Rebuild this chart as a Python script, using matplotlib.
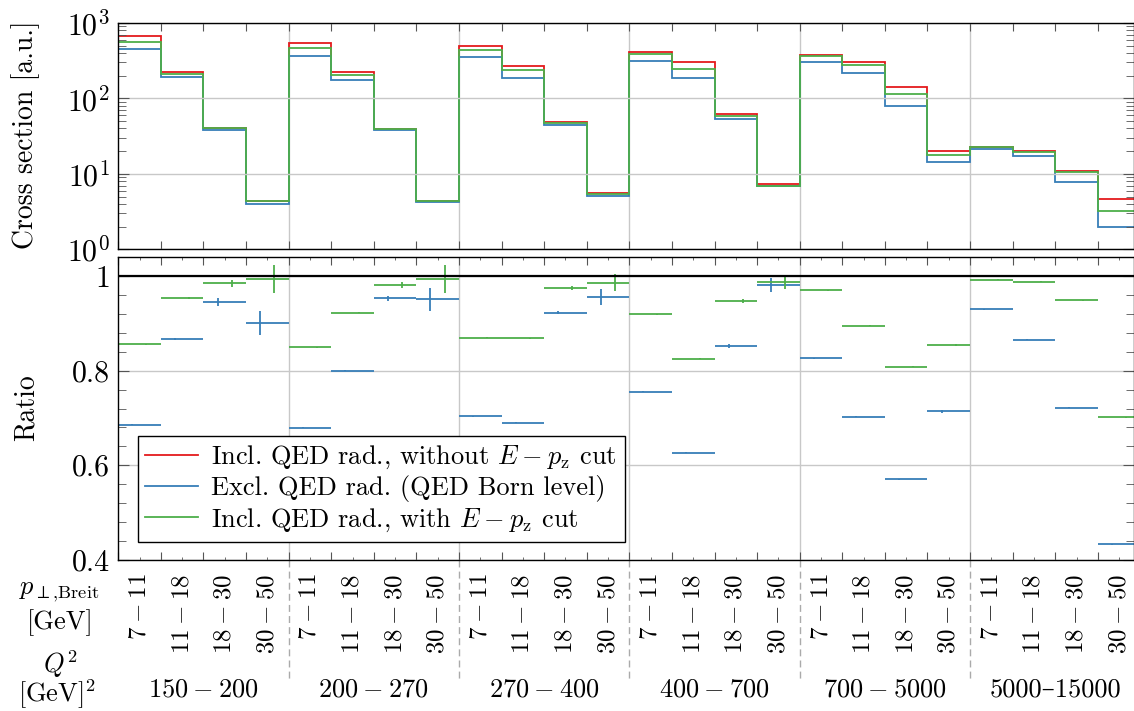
import numpy as np
import matplotlib
matplotlib.use('Agg')
import matplotlib.pyplot as plt
from matplotlib.ticker import FixedLocator, NullFormatter, FixedFormatter, MultipleLocator, LogLocator

plt.rcParams['font.family'] = ['cmr10', 'DejaVu Serif']
plt.rcParams['mathtext.fontset'] = 'cm'
plt.rcParams['axes.formatter.use_mathtext'] = True
plt.rcParams['font.size'] = 19

# bins: 6 Q2 groups x 4 pT bins
q2_labels = [r'$150\:{-}\:200$', r'$200\:{-}\:270$', r'$270\:{-}\:400$', r'$400\:{-}\:700$',
             r'$700\:{-}\:5000$', '5000\u201315000']
pt_labels = [r'$7\:{-}\:11$', r'$11\:{-}\:18$', r'$18\:{-}\:30$', r'$30\:{-}\:50$']

# cross sections [a.u.]
xs_nocut = [666, 226, 40.9, 4.40,  548, 224, 39.6, 4.36,  500, 272, 48.6, 5.51,
            412, 301, 62.0, 7.26,  377, 307, 141.6, 20.3,  22.5, 20.3, 10.9, 4.63]
xs_born = [452, 194, 38.5, 3.94,  369, 177, 37.7, 4.19,  351, 187, 44.4, 5.13,
           313, 187, 52.8, 6.90,  307, 217, 80.0, 14.5,  21.5, 17.4, 7.87, 1.99]
xs_cut = [566, 211, 40.0, 4.30,  461, 206, 39.0, 4.30,  434, 235, 46.7, 5.40,
          384, 248, 58.0, 6.96,  362, 277, 114, 17.6,  22.9, 19.6, 10.5, 3.24]

# ratios to "incl. QED rad., without E-pz cut"
ratio_born = [0.686, 0.867, 0.945, 0.901,  0.679, 0.800, 0.953, 0.951,  0.704, 0.690, 0.923, 0.956,
              0.755, 0.626, 0.853, 0.982,  0.826, 0.703, 0.570, 0.714,  0.930, 0.866, 0.722, 0.433]
ratio_born_err = [0.001, 0.002, 0.008, 0.025,  0.001, 0.001, 0.006, 0.024,  0.001, 0.001, 0.004, 0.017,
                  0.001, 0.001, 0.004, 0.015,  0.001, 0.001, 0.001, 0.003,  0.001, 0.001, 0.001, 0.001]
ratio_cut = [0.856, 0.954, 0.985, 0.994,  0.850, 0.923, 0.982, 0.994,  0.870, 0.869, 0.975, 0.986,
             0.919, 0.825, 0.947, 0.987,  0.970, 0.895, 0.808, 0.855,  0.993, 0.988, 0.949, 0.701]
ratio_cut_err = [0.001, 0.002, 0.007, 0.030,  0.001, 0.001, 0.006, 0.029,  0.001, 0.001, 0.005, 0.018,
                 0.001, 0.001, 0.004, 0.014,  0.001, 0.001, 0.001, 0.002,  0.001, 0.001, 0.001, 0.001]

red = '#e41a1c'
blue = '#377eb8'
green = '#4daf4a'
grid_c = '#c8c8c8'

nb = len(xs_born)
edges = np.arange(nb + 1)
centers = edges[:-1] + 0.5
group_edges = np.arange(0, nb + 1, 4)
xmax = 23.85

fig = plt.figure(figsize=(11.34, 7.11), dpi=100)
ax1 = fig.add_axes([0.1043, 0.6494, 1 - 0.1043, 0.3183])
ax2 = fig.add_axes([0.1043, 0.2128, 1 - 0.1043, 0.4253])

# top panel
ax1.stairs(xs_nocut, edges, color=red, lw=1.3, baseline=None)
ax1.stairs(xs_born, edges, color=blue, lw=1.3, baseline=None)
ax1.stairs(xs_cut, edges, color=green, lw=1.3, baseline=None)
ax1.set_yscale('log')
ax1.set_ylim(1, 1000)
ax1.set_xlim(0, xmax)
ax1.yaxis.set_major_locator(FixedLocator([1, 10, 100, 1000]))
ax1.yaxis.set_major_formatter(FixedFormatter([r'$10^{0}$', r'$10^{1}$', r'$10^{2}$', r'$10^{3}$']))
ax1.yaxis.set_minor_locator(LogLocator(base=10, subs=np.arange(2, 10)))
ax1.yaxis.set_minor_formatter(NullFormatter())
ax1.xaxis.set_major_locator(FixedLocator(edges))
ax1.xaxis.set_major_formatter(NullFormatter())
ax1.grid(True, axis='y', which='major', color=grid_c, lw=1)
for g in group_edges[1:-1]:
    ax1.axvline(g, color=grid_c, lw=1, zorder=0)

# ratio panel
ax2.hlines(np.ones(nb), edges[:-1], edges[1:], color=red, lw=1.3)
ax2.hlines(ratio_born, edges[:-1], edges[1:], color=blue, lw=1.3)
ax2.errorbar(centers - 0.17, ratio_born, yerr=ratio_born_err, fmt='none', ecolor=blue, elinewidth=1.3)
ax2.hlines(ratio_cut, edges[:-1], edges[1:], color=green, lw=1.3)
ax2.errorbar(centers + 0.16, ratio_cut, yerr=ratio_cut_err, fmt='none', ecolor=green, elinewidth=1.3)
ax2.axhline(1.0, color='black', lw=1.6, zorder=5)
ax2.set_ylim(0.4, 1.04)
ax2.set_xlim(0, xmax)
ax2.yaxis.set_major_locator(FixedLocator([0.4, 0.6, 0.8, 1.0]))
ax2.yaxis.set_major_formatter(FixedFormatter(['0.4', '0.6', '0.8', '1']))
ax2.yaxis.set_minor_locator(MultipleLocator(0.04))
ax2.xaxis.set_major_locator(FixedLocator(edges))
ax2.xaxis.set_major_formatter(NullFormatter())
ax2.xaxis.set_minor_locator(FixedLocator(centers))
ax2.xaxis.set_minor_formatter(FixedFormatter(pt_labels * 6))
ax2.grid(True, axis='y', which='major', color=grid_c, lw=1)
for g in group_edges[1:-1]:
    ax2.axvline(g, color=grid_c, lw=1, zorder=0)

for ax in (ax1, ax2):
    ax.tick_params(which='both', direction='in', top=True, right=True, color='#555555')
    ax.tick_params(axis='y', which='major', length=8, width=0.8, labelsize=21.5, pad=6)
    ax.tick_params(axis='y', which='minor', length=5.5, width=0.6)
    ax.tick_params(axis='x', which='major', length=5.5, width=0.8)
    ax.tick_params(axis='x', which='minor', length=2, width=0.6)
    for s in ax.spines.values():
        s.set_linewidth(1.0)
ax2.tick_params(axis='x', which='minor', labelsize=18, pad=10, labelrotation=90, bottom=True)

# dashed separators between Q2 groups below the ratio axis
for g in group_edges[1:-1]:
    ax2.plot([g, g], [0, -0.40], transform=ax2.get_xaxis_transform(), color='#aaaaaa',
             lw=1, ls=(0, (5, 3)), clip_on=False)
for i, lab in enumerate(q2_labels):
    x = (group_edges[i] + group_edges[i + 1]) / 2
    ax2.text(x, -0.43, lab, transform=ax2.get_xaxis_transform(), ha='center', va='center', fontsize=19)

leg = ax2.legend(handles=[plt.Line2D([], [], color=red, lw=1.3),
                          plt.Line2D([], [], color=blue, lw=1.3),
                          plt.Line2D([], [], color=green, lw=1.3)],
                 labels=[r'Incl. QED rad., without $E\:{-}\:p_{\mathrm{z}}$ cut',
                         r'Excl. QED rad. (QED Born level)',
                         r'Incl. QED rad., with $E\:{-}\:p_{\mathrm{z}}$ cut'],
                 loc='lower left', bbox_to_anchor=(0.019, 0.06), fontsize=19, frameon=True,
                 fancybox=False, edgecolor='black', framealpha=1, borderpad=0.3,
                 labelspacing=0.15, handlelength=2.0, handletextpad=0.5, borderaxespad=0)
leg.get_frame().set_linewidth(1.0)
leg.set_zorder(10)

fig.text(26 / 1134, 1 - 135 / 711, 'Cross section [a.u.]', rotation=90, ha='center', va='center', fontsize=20)
fig.text(26 / 1134, 1 - 408 / 711, 'Ratio', rotation=90, ha='center', va='center', fontsize=20)
fig.text(59 / 1134, 1 - 592 / 711, r'$p_{{\perp}{,}\mathrm{Breit}}$', ha='center', va='center', fontsize=19)
fig.text(60 / 1134, 1 - 623 / 711, '[GeV]', ha='center', va='center', fontsize=19)
fig.text(60 / 1134, 1 - 664 / 711, r'$Q^{2}$', ha='center', va='center', fontsize=19)
fig.text(57 / 1134, 1 - 694 / 711, r'[GeV]$^2$', ha='center', va='center', fontsize=19)

fig.savefig('out.png', dpi=100)
